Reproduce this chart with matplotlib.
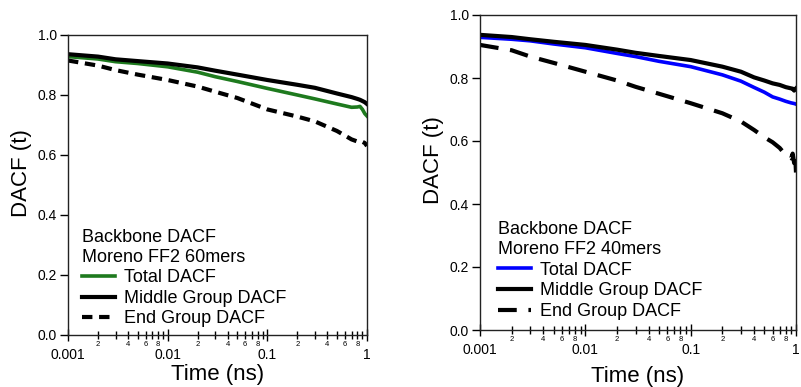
import numpy as np
import matplotlib
matplotlib.use("Agg")
import matplotlib.pyplot as plt
from matplotlib.ticker import FixedLocator, FixedFormatter

plt.rcParams['font.family'] = ['Liberation Sans', 'DejaVu Sans']

# Datos: tiempo (ns) y DACF
t60 = [0.001, 0.002, 0.003, 0.005, 0.01, 0.02, 0.03, 0.05, 0.1, 0.2, 0.3,
       0.5, 0.7, 0.8, 0.85, 0.9, 0.95, 1.0]
total60 = [0.928, 0.920, 0.911, 0.905, 0.894, 0.876, 0.861, 0.845, 0.822, 0.800,
           0.787, 0.770, 0.759, 0.760, 0.762, 0.752, 0.738, 0.730]
middle60 = [0.936, 0.928, 0.919, 0.913, 0.905, 0.892, 0.881, 0.868, 0.850, 0.834,
            0.824, 0.805, 0.793, 0.787, 0.784, 0.780, 0.776, 0.770]
end60 = [0.915, 0.898, 0.883, 0.868, 0.850, 0.828, 0.811, 0.790, 0.752, 0.728,
         0.712, 0.680, 0.652, 0.645, 0.642, 0.644, 0.640, 0.630]

t40 = [0.001, 0.002, 0.003, 0.005, 0.01, 0.02, 0.03, 0.05, 0.1, 0.2, 0.3, 0.4,
       0.5, 0.6, 0.7, 0.8, 0.9, 0.93, 0.96, 0.98, 1.0]
total40 = [0.929, 0.923, 0.918, 0.908, 0.896, 0.878, 0.868, 0.853, 0.836, 0.810,
           0.790, 0.770, 0.755, 0.740, 0.733, 0.726, 0.721, 0.720, 0.719, 0.718, 0.717]
middle40 = [0.937, 0.930, 0.923, 0.915, 0.905, 0.890, 0.880, 0.870, 0.857, 0.836,
            0.820, 0.802, 0.792, 0.783, 0.778, 0.771, 0.767, 0.766, 0.760, 0.764, 0.767]
end40 = [0.905, 0.888, 0.868, 0.848, 0.820, 0.792, 0.772, 0.750, 0.720, 0.688,
         0.662, 0.635, 0.612, 0.596, 0.578, 0.555, 0.545, 0.560, 0.530, 0.560, 0.500]

labels = ["Total DACF", "Middle Group DACF", "End Group DACF"]
major_x = [0.001, 0.01, 0.1, 1]
major_lbl = ["0.001", "0.01", "0.1", "1"]


def format_axes(ax, xpad):
    ax.set_xscale("log")
    ax.set_xlim(0.001, 1)
    ax.set_ylim(0, 1.0)
    ax.set_yticks([0.0, 0.2, 0.4, 0.6, 0.8, 1.0])
    ax.set_yticklabels(["0.0", "0.2", "0.4", "0.6", "0.8", "1.0"])
    ax.xaxis.set_major_locator(FixedLocator(major_x))
    ax.xaxis.set_major_formatter(FixedFormatter(major_lbl))
    minors = []
    minor_lbl = []
    for dec in [0.001, 0.01, 0.1]:
        for k in range(2, 10):
            minors.append(k * dec)
            minor_lbl.append(str(k) if k in (2, 4, 6, 8) else "")
    ax.xaxis.set_minor_locator(FixedLocator(minors))
    ax.xaxis.set_minor_formatter(FixedFormatter(minor_lbl))
    ax.tick_params(axis="x", which="major", direction="inout", length=9, width=1,
                   labelsize=10, pad=5)
    ax.tick_params(axis="x", which="minor", direction="inout", length=6, width=1,
                   labelsize=5.5, pad=1)
    ax.tick_params(axis="y", direction="out", length=6, width=1, labelsize=10, pad=2)
    for s in ax.spines.values():
        s.set_linewidth(1)
        s.set_color("#222222")
    ax.set_xlabel("Time (ns)", fontsize=16, labelpad=xpad)
    ax.set_ylabel("DACF (t)", fontsize=16)


fig = plt.figure(figsize=(8.01, 3.87), dpi=100)
ax1 = fig.add_axes([68 / 801, 1 - 335 / 387, 299 / 801, 300 / 387])
ax2 = fig.add_axes([480 / 801, 1 - 330 / 387, 316 / 801, 315 / 387])

ax1.plot(t60, total60, color="#1e7a1e", lw=2.6, label=labels[0])
ax1.plot(t60, middle60, color="black", lw=3, label=labels[1])
ax1.plot(t60, end60, color="black", lw=3, dashes=(2.5, 1.6), label=labels[2])

ax2.plot(t40, total40, color="#0000ff", lw=2.6, label=labels[0])
ax2.plot(t40, middle40, color="black", lw=3, label=labels[1])
ax2.plot(t40, end40, color="black", lw=3, dashes=(4.5, 2.8), label=labels[2])

panels = [(ax1, "Backbone DACF\nMoreno FF2 60mers", -0.012, -0.035, 1.5),
          (ax2, "Backbone DACF\nMoreno FF2 40mers", 0.0, -0.025, 6)]
for ax, title, xoff, yoff, xpad in panels:
    format_axes(ax, xpad)
    ax.legend(title=title, loc="lower left", bbox_to_anchor=(xoff, yoff),
              frameon=False, fontsize=13, title_fontproperties={"size": 13},
              alignment="left", labelspacing=0.2, handlelength=1.8,
              handletextpad=0.5, borderpad=0.5)

ax1.yaxis.set_label_coords(-0.12, 0.54)
ax2.yaxis.set_label_coords(-0.114, 0.54)

fig.savefig("out.png", dpi=100)
